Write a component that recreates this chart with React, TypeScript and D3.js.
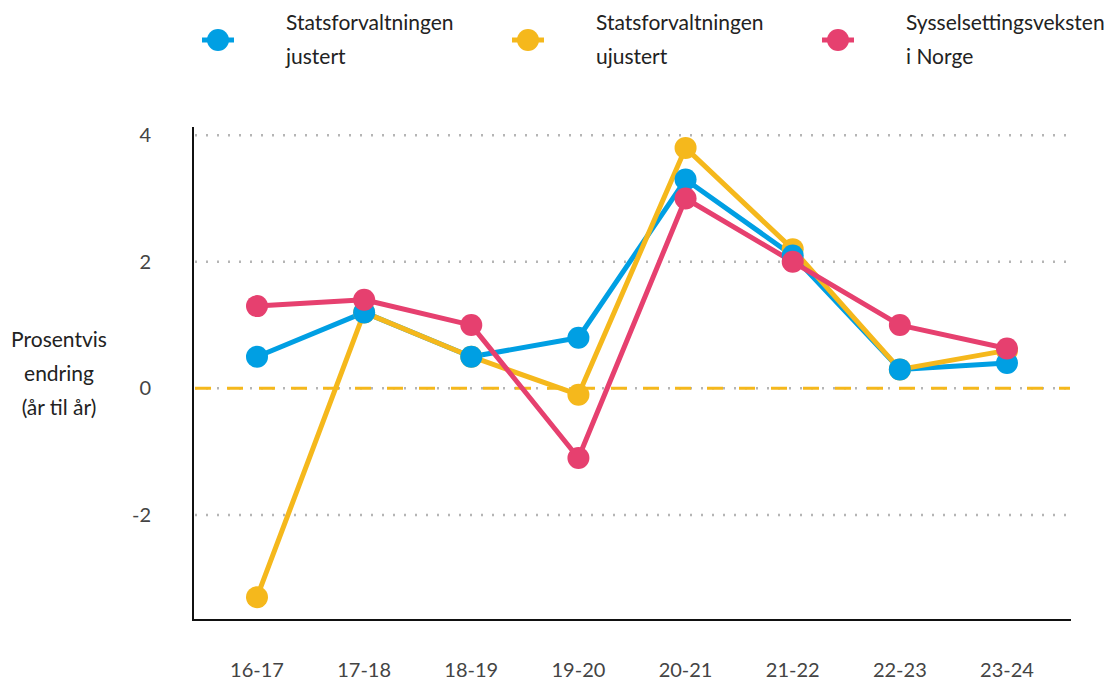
import React from "react";
import * as d3 from "d3";

const categories = ["16-17", "17-18", "18-19", "19-20", "20-21", "21-22", "22-23", "23-24"];
const justert = [0.5, 1.2, 0.5, 0.8, 3.3, 2.1, 0.3, 0.4];
const ujustert = [-3.3, 1.2, 0.5, -0.1, 3.8, 2.2, 0.3, 0.6];
const norge = [1.3, 1.4, 1.0, -1.1, 3.0, 2.0, 1.0, 0.63];
const yTicks = [-2, 0, 2, 4];
const seriesNames = [["Statsforvaltningen", "justert"], ["Statsforvaltningen", "ujustert"], ["Sysselsettingsveksten", "i Norge"]];
const colors = ["#009FE3", "#F5B81C", "#E6406F"];
const yTitle = ["Prosentvis", "endring", "(år til år)"];

const W = 1118, H = 680;
const FONT = "Lato, 'Open Sans', sans-serif";

export default function App() {
  const x = d3.scalePoint<string>().domain(categories).range([257, 1007]);
  const y = d3.scaleLinear().domain([-3.66, 4.13]).range([620, 127]);
  const series = [justert, ujustert, norge];
  const line = d3.line<number>().x((_, i) => x(categories[i]) as number).y((d) => y(d));
  const lineOrder = [0, 1, 2];
  const markerOrder = [1, 0, 2];
  const legendX = [218, 528, 838];
  return (
    <svg width={W} height={H} style={{ position: "absolute", left: 0, top: 0, background: "#fff" }} fontFamily={FONT}>
      {/* legend */}
      {seriesNames.map((names, i) => (
        <g key={i}>
          <line x1={legendX[i] - 16} x2={legendX[i] + 16} y1={40} y2={40} stroke={colors[i]} strokeWidth={5} />
          <circle cx={legendX[i]} cy={40} r={11} fill={colors[i]} />
          <text x={legendX[i] + 68} y={30} fontSize={21} fill="#222">{names[0]}</text>
          <text x={legendX[i] + 68} y={64} fontSize={21} fill="#222">{names[1]}</text>
        </g>
      ))}
      {/* y title */}
      {yTitle.map((t, i) => (
        <text key={t} x={59} y={347 + i * 34} textAnchor="middle" fontSize={21} fill="#222">{t}</text>
      ))}
      {/* grid */}
      {yTicks.map((t) => (
        <g key={t}>
          <line x1={195} x2={1070} y1={y(t)} y2={y(t)} stroke="#b5b5b5" strokeWidth={2.5} strokeDasharray="2 9" />
          <text x={151} y={y(t)} dy="0.35em" textAnchor="end" fontSize={20} fill="#444">{t}</text>
        </g>
      ))}
      <line x1={195} x2={1070} y1={y(0)} y2={y(0)} stroke={colors[1]} strokeWidth={3} strokeDasharray="16 16" />
      {/* axes */}
      <line x1={193} x2={193} y1={127} y2={621} stroke="#111" strokeWidth={2} />
      <line x1={192} x2={1071} y1={620} y2={620} stroke="#111" strokeWidth={2} />
      {categories.map((c) => (
        <text key={c} x={x(c)} y={677} textAnchor="middle" fontSize={20} fill="#444">{c}</text>
      ))}
      {/* lines */}
      {lineOrder.map((i) => (
        <path key={"l" + i} d={line(series[i]) || ""} fill="none" stroke={colors[i]} strokeWidth={5} strokeLinejoin="round" />
      ))}
      {markerOrder.map((i) => (
        <g key={"m" + i}>
          {series[i].map((v, j) => (
            <circle key={j} cx={x(categories[j])} cy={y(v)} r={11} fill={colors[i]} />
          ))}
        </g>
      ))}
    </svg>
  );
}
